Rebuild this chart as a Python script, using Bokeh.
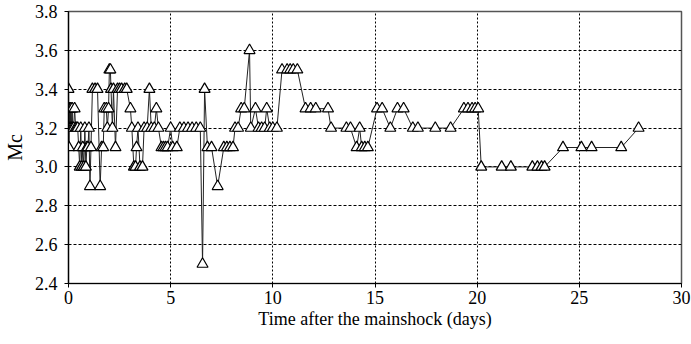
from bokeh.plotting import figure
from bokeh.models import Range1d, FixedTicker, CustomJSTickFormatter
from bokeh.embed import file_html
from bokeh.resources import INLINE

days = [0.0, 0.02, 0.04, 0.06, 0.08, 0.1, 0.12, 0.15, 0.18, 0.2, 0.25, 0.3, 0.35, 0.4, 0.45,
        0.5, 0.55, 0.6, 0.65, 0.7, 0.75, 0.8, 0.85, 0.9, 0.95, 1.0, 1.05, 1.1, 1.17, 1.3,
        1.42, 1.55, 1.62, 1.7, 1.75, 1.85, 1.9, 1.96, 2.0, 2.05, 2.08, 2.15, 2.2, 2.3, 2.4,
        2.5, 2.6, 2.75, 2.85, 3.03, 3.1, 3.2, 3.28, 3.33, 3.4, 3.5, 3.62, 3.7, 3.85, 3.96,
        4.05, 4.2, 4.3, 4.4, 4.55, 4.65, 4.75, 4.85, 5.0, 5.1, 5.3, 5.45, 5.65, 5.85, 6.05,
        6.25, 6.45, 6.56, 6.66, 6.8, 7.0, 7.3, 7.6, 7.75, 7.9, 8.05, 8.15, 8.3, 8.45, 8.6,
        8.86, 8.92, 9.15, 9.3, 9.45, 9.6, 9.7, 9.85, 10.0, 10.2, 10.45, 10.7, 10.85, 11.0,
        11.2, 11.6, 11.85, 12.1, 12.7, 12.85, 13.6, 13.8, 14.1, 14.25, 14.35, 14.5, 14.65,
        15.1, 15.35, 15.75, 16.1, 16.4, 16.85, 17.1, 17.95, 18.7, 19.35, 19.55, 19.75, 19.9,
        20.05, 20.2, 21.2, 21.65, 22.7, 22.95, 23.15, 23.3, 24.2, 25.1, 25.6, 27.05, 27.9]

mc = [3.4, 3.1, 3.3, 3.2, 3.3, 3.2, 3.3, 3.2, 3.3, 3.2, 3.2, 3.3, 3.2, 3.2, 3.2,
      3.1, 3.0, 3.2, 3.0, 3.1, 3.0, 3.2, 3.0, 3.1, 3.1, 3.2, 2.9, 3.1, 3.4, 3.4,
      3.4, 2.9, 3.1, 3.1, 3.3, 3.3, 3.2, 3.3, 3.5, 3.5, 3.4, 3.2, 3.4, 3.1, 3.4,
      3.4, 3.4, 3.4, 3.4, 3.3, 3.2, 3.0, 3.0, 3.1, 3.2, 3.0, 3.0, 3.2, 3.2, 3.4,
      3.2, 3.2, 3.3, 3.2, 3.1, 3.1, 3.1, 3.1, 3.2, 3.1, 3.1, 3.2, 3.2, 3.2, 3.2,
      3.2, 3.2, 2.5, 3.4, 3.1, 3.1, 2.9, 3.1, 3.1, 3.1, 3.1, 3.2, 3.2, 3.3, 3.3,
      3.6, 3.2, 3.3, 3.2, 3.2, 3.2, 3.3, 3.2, 3.2, 3.2, 3.5, 3.5, 3.5, 3.5,
      3.5, 3.3, 3.3, 3.3, 3.3, 3.2, 3.2, 3.2, 3.1, 3.2, 3.1, 3.1, 3.1,
      3.3, 3.3, 3.2, 3.3, 3.3, 3.2, 3.2, 3.2, 3.2, 3.3, 3.3, 3.3, 3.3,
      3.3, 3.0, 3.0, 3.0, 3.0, 3.0, 3.0, 3.0, 3.1, 3.1, 3.1, 3.1, 3.2]

x_ticks = [0, 5, 10, 15, 20, 25, 30]
y_ticks = [2.4, 2.6, 2.8, 3.0, 3.2, 3.4, 3.6, 3.8]

FONT = "Liberation Serif"

p = figure(width=691, height=344, output_backend="svg", toolbar_location=None,
           x_range=Range1d(0, 30), y_range=Range1d(2.4, 3.8),
           min_border_left=68, min_border_right=10, min_border_top=11, min_border_bottom=61)

p.line(days, mc, line_color="#222222", line_width=1)
p.scatter(days, mc, marker="triangle", size=11, fill_color="white",
          line_color="black", line_width=1.2)

p.xaxis.ticker = FixedTicker(ticks=x_ticks)
p.yaxis.ticker = FixedTicker(ticks=y_ticks)
p.yaxis.formatter = CustomJSTickFormatter(code="return tick.toFixed(1);")

for ax in (p.xaxis[0], p.yaxis[0]):
    ax.major_label_text_font = FONT
    ax.major_label_text_font_size = "18px"
    ax.major_label_text_color = "black"
    ax.axis_label_text_font = FONT
    ax.axis_label_text_font_style = "normal"
    ax.axis_label_text_color = "black"
    ax.axis_line_color = "black"
    ax.axis_line_width = 1.2
    ax.major_tick_line_color = "black"
    ax.major_tick_out = 4
    ax.major_tick_in = 0
    ax.minor_tick_line_color = None

p.xaxis.axis_label = "Time after the mainshock (days)"
p.yaxis.axis_label = "Mc"
p.xaxis.axis_label_text_font_size = "18px"
p.yaxis.axis_label_text_font_size = "20px"
p.xaxis.major_label_standoff = 3
p.xaxis.axis_label_standoff = 2
p.yaxis.major_label_standoff = 7
p.yaxis.axis_label_standoff = 6

p.xgrid.grid_line_color = "black"
p.xgrid.grid_line_dash = "2 2"
p.xgrid.grid_line_width = 1
p.ygrid.grid_line_color = "black"
p.ygrid.grid_line_dash = "3 2"
p.ygrid.grid_line_width = 1

p.outline_line_color = "#555555"
p.outline_line_width = 1.5
p.background_fill_color = "white"
p.border_fill_color = "white"

open("out.html", "w").write(file_html(p, INLINE))
